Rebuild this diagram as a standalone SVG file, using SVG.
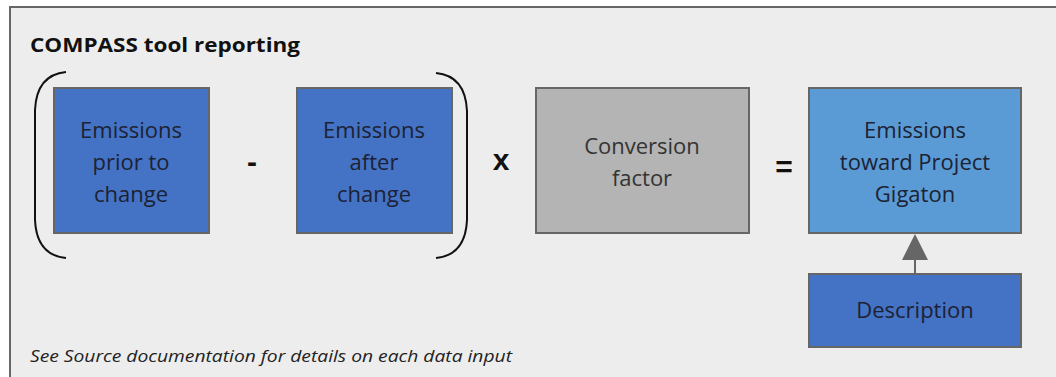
<svg xmlns="http://www.w3.org/2000/svg" width="1056" height="377" viewBox="0 0 1056 377">
<style>
.box{stroke:#666;stroke-width:2}
.blue{fill:#4472C4}
.lblue{fill:#5B9BD5}
.gray{fill:#B4B4B4}
.t{font-family:"Open Sans","Liberation Sans",sans-serif;font-size:22px;fill:#1c2233;text-anchor:middle}
.tg{fill:#333}
.op{font-family:"Liberation Sans",sans-serif;font-weight:bold;font-size:30px;fill:#111;text-anchor:middle}
.br{fill:none;stroke:#111;stroke-width:2}
</style>
<rect width="1056" height="377" fill="#fff"/>
<rect x="10" y="7" width="1060" height="375" fill="#EDEDED" stroke="#666" stroke-width="2"/>
<text x="30" y="52" font-family="Open Sans,Liberation Sans,sans-serif" font-weight="bold" font-size="20" fill="#111" textLength="270" lengthAdjust="spacingAndGlyphs">COMPASS tool reporting</text>
<text x="30" y="362" font-family="Open Sans,Liberation Sans,sans-serif" font-style="italic" font-size="17" fill="#222" textLength="482" lengthAdjust="spacingAndGlyphs">See Source documentation for details on each data input</text>
<path class="br" d="M66,72 C45,74 36,88 35,110 L35,220 C36,242 45,256 66,258"/>
<path class="br" d="M436,73 C457,75 466,89 467,111 L467,220 C466,242 457,256 436,258"/>
<g id="n1"><rect class="box blue" x="54" y="88" width="155" height="145"/>
<text class="t" x="131" y="138">Emissions</text><text class="t" x="131" y="170">prior to</text><text class="t" x="131" y="202">change</text></g>
<text class="op" x="252" y="172">-</text>
<g id="n2"><rect class="box blue" x="297" y="88" width="155" height="145"/>
<text class="t" x="374" y="138">Emissions</text><text class="t" x="374" y="170">after</text><text class="t" x="374" y="202">change</text></g>
<text class="op" x="501" y="170">x</text>
<g id="n3"><rect class="box gray" x="536" y="88" width="213" height="145"/>
<text class="t tg" x="642" y="154">Conversion</text><text class="t tg" x="642" y="186">factor</text></g>
<text class="op" x="784" y="177">=</text>
<g id="n4"><rect class="box lblue" x="809" y="88" width="212" height="145"/>
<text class="t" x="915" y="138">Emissions</text><text class="t" x="915" y="170">toward Project</text><text class="t" x="915" y="202">Gigaton</text></g>
<g id="n5"><rect class="box blue" x="809" y="274" width="212" height="73"/>
<text class="t" x="915" y="318">Description</text></g>
<g id="connectors">
<line x1="915" y1="274" x2="915" y2="258" stroke="#666" stroke-width="2"/>
<polygon points="915,234 902,260 928,260" fill="#666"/>
</g>
</svg>
